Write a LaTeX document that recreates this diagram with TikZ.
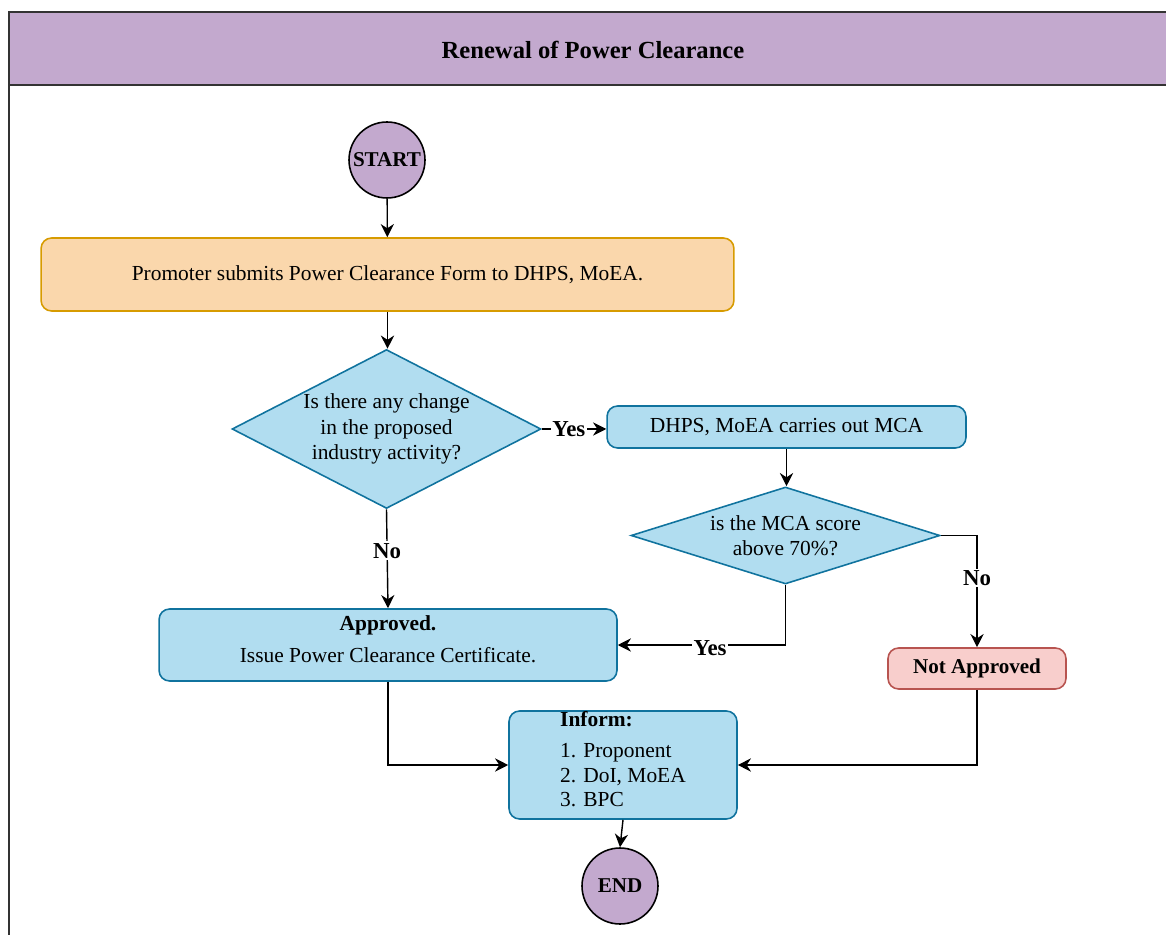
\documentclass[tikz,border=0pt]{standalone}
\usepackage{fontspec}
\setmainfont{Liberation Serif}
\usetikzlibrary{shapes.geometric, arrows.meta, positioning, calc}
\definecolor{lilac}{HTML}{C3A9CE}
\definecolor{peach}{HTML}{FAD7AC}
\definecolor{peachline}{HTML}{D79B00}
\definecolor{skyfill}{HTML}{B1DDF0}
\definecolor{skyline}{HTML}{10739E}
\definecolor{rosefill}{HTML}{F8CECC}
\definecolor{roseline}{HTML}{B85450}
\tikzset{
  terminal/.style={circle, draw=black, line width=0.9pt, fill=lilac,
                   minimum size=1.52cm, inner sep=0pt, font=\bfseries\fontsize{12}{14}\selectfont},
  process/.style={rectangle, rounded corners=6pt, draw=skyline, line width=0.9pt,
                  fill=skyfill, align=center, font=\fontsize{12.2}{14}\selectfont},
  decision/.style={diamond, draw=skyline, line width=0.9pt, fill=skyfill,
                   inner sep=0pt, align=center, font=\fontsize{12.2}{14.5}\selectfont},
  arrow/.style={-{Stealth[length=7.5pt, width=7.5pt]}, line width=0.8pt, color=black},
  choice/.style={fill=white, inner sep=1pt, font=\bfseries\fontsize{13}{15}\selectfont},
}

\begin{document}
\begin{tikzpicture}[x=0.02cm, y=-0.02cm]
  \useasboundingbox (0,0) rectangle (1166,935);
  % lane frame
  \draw[line width=1.2pt, draw=black!80, fill=lilac] (9,12) rectangle (1190,85);
  \draw[line width=1.2pt, draw=black!80] (9,85) -- (9,945);
  \node[font=\bfseries\fontsize{14}{16}\selectfont] (title) at (593,50) {Renewal of Power Clearance};

  % nodes
  \node[terminal] (start) at (387,160) {START};
  \node[process, fill=peach, draw=peachline, minimum width=13.86cm,
        minimum height=1.46cm] (submit) at (387.5,274.5)
        {Promoter submits Power Clearance Form to DHPS, MoEA.};
  \node[decision, minimum width=6.18cm, minimum height=3.18cm, shape aspect=1.94]
        (change) at (386.5,429) {Is there any change\\in the proposed\\industry activity?};
  \node[process, minimum width=7.18cm, minimum height=0.84cm] (mca) at (786.5,427)
        {DHPS, MoEA carries out MCA};
  \node[decision, minimum width=6.18cm, minimum height=1.94cm, shape aspect=3.19]
        (score) at (785.5,535.5) {is the MCA score\\above 70\%?};
  \node[process, minimum width=9.16cm, minimum height=1.44cm, text depth=7pt]
        (approved) at (388,645)
        {\textbf{Approved.}\\[4pt]Issue Power Clearance Certificate.};
  \node[process, fill=rosefill, draw=roseline, minimum width=3.56cm,
        minimum height=0.82cm, font=\bfseries\fontsize{12}{14}\selectfont]
        (notapp) at (977,668.5) {Not Approved};
  \node[process, align=left, minimum width=4.56cm, minimum height=2.16cm,
        inner ysep=0pt, text depth=6.5pt]
        (inform) at (623,765) {\textbf{Inform:}\\[3.5pt]1. Proponent\\2. DoI, MoEA\\3. BPC};
  \node[terminal] (end) at (620,886) {END};

  % connectors
  \draw[arrow] (start) -- (submit);
  \draw[arrow] (submit) -- (submit.south |- change.north);
  \draw[arrow] (change.east) -- (change.east -| mca.west)
    node[choice, pos=0.42] {Yes};
  \draw[arrow] (mca) -- (mca.south |- score.north);
  \draw[arrow] (score.east) -| (notapp.north)
    node[choice, pos=0.69] {No};
  \draw[arrow] (score.south) |- (approved.east)
    node[choice, pos=0.725, yshift=-2pt] {Yes};
  \draw[arrow] (change.south) -- (approved.north)
    node[choice, pos=0.42] {No};
  \draw[arrow] (approved.south) |- (inform.west);
  \draw[arrow] (notapp.south) |- (inform.east);
  \draw[arrow] (inform.south) -- (end.north);
\end{tikzpicture}
\end{document}
